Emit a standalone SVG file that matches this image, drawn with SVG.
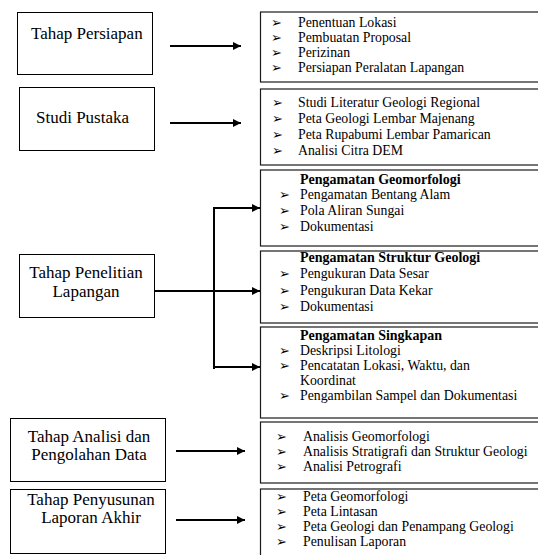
<svg xmlns="http://www.w3.org/2000/svg" width="538" height="555" viewBox="0 0 538 555">
<defs>
<style>
text{font-family:'Liberation Serif',serif;fill:#000}
.box{fill:#fff;stroke:#000;stroke-width:1}
.rbox{fill:#fff;stroke:#1a1a1a;stroke-width:1.2}
.lbl{font-size:17px}
.c{text-anchor:middle}
.it{font-size:13.8px}
.hd{font-size:14px;font-weight:bold}
.bl{font-size:13px}
.ln{stroke:#000;stroke-width:2;fill:none}
</style>
<marker id="ah" viewBox="0 0 10 10" refX="10" refY="5" markerWidth="4" markerHeight="4" orient="auto" markerUnits="strokeWidth">
<path d="M0,0 L10,5 L0,10 z" fill="#000"/>
</marker>
</defs>
<rect width="538" height="555" fill="#fff"/>

<g id="n-persiapan">
<rect class="box" x="17.5" y="12.5" width="135" height="62"/>
<text class="lbl" x="31" y="39">Tahap Persiapan</text>
</g>
<g id="n-pustaka">
<rect class="box" x="19.5" y="87.5" width="135" height="63"/>
<text class="lbl" x="36" y="123">Studi Pustaka</text>
</g>
<g id="n-lapangan">
<rect class="box" x="19.5" y="254.5" width="135" height="63"/>
<text class="lbl c" x="86" y="278">Tahap Penelitian</text>
<text class="lbl c" x="86" y="297">Lapangan</text>
</g>
<g id="n-analisis">
<rect class="box" x="10.5" y="418.5" width="155" height="63"/>
<text class="lbl c" x="89" y="442">Tahap Analisi dan</text>
<text class="lbl c" x="89" y="460">Pengolahan Data</text>
</g>
<g id="n-laporan">
<rect class="box" x="10.5" y="489.5" width="155" height="64"/>
<text class="lbl c" x="91" y="505">Tahap Penyusunan</text>
<text class="lbl c" x="91" y="523">Laporan Akhir</text>
</g>

<g id="r-persiapan">
<rect class="rbox" x="260.5" y="12" width="290" height="70"/>
<text class="bl" x="271" y="27">➢</text><text class="it" x="298" y="27">Penentuan Lokasi</text>
<text class="bl" x="271" y="42">➢</text><text class="it" x="298" y="42">Pembuatan Proposal</text>
<text class="bl" x="271" y="57">➢</text><text class="it" x="298" y="57">Perizinan</text>
<text class="bl" x="271" y="72">➢</text><text class="it" x="298" y="72">Persiapan Peralatan Lapangan</text>
</g>
<g id="r-pustaka">
<rect class="rbox" x="260.5" y="89" width="290" height="76"/>
<text class="bl" x="272" y="107">➢</text><text class="it" x="298" y="107">Studi Literatur Geologi Regional</text>
<text class="bl" x="272" y="123">➢</text><text class="it" x="298" y="123">Peta Geologi Lembar Majenang</text>
<text class="bl" x="272" y="139">➢</text><text class="it" x="298" y="139">Peta Rupabumi Lembar Pamarican</text>
<text class="bl" x="272" y="155">➢</text><text class="it" x="298" y="155">Analisi Citra DEM</text>
</g>
<g id="r-geomorfologi">
<rect class="rbox" x="260.5" y="170" width="290" height="76"/>
<text class="hd" x="300" y="184">Pengamatan Geomorfologi</text>
<text class="bl" x="279" y="199">➢</text><text class="it" x="300" y="199">Pengamatan Bentang Alam</text>
<text class="bl" x="279" y="215">➢</text><text class="it" x="300" y="215">Pola Aliran Sungai</text>
<text class="bl" x="279" y="231">➢</text><text class="it" x="300" y="231">Dokumentasi</text>
</g>
<g id="r-struktur">
<rect class="rbox" x="260.5" y="251" width="290" height="72"/>
<text class="hd" x="300" y="262">Pengamatan Struktur Geologi</text>
<text class="bl" x="279" y="278">➢</text><text class="it" x="300" y="278">Pengukuran Data Sesar</text>
<text class="bl" x="279" y="295">➢</text><text class="it" x="300" y="295">Pengukuran Data Kekar</text>
<text class="bl" x="279" y="311">➢</text><text class="it" x="300" y="311">Dokumentasi</text>
</g>
<g id="r-singkapan">
<rect class="rbox" x="260.5" y="327" width="290" height="91"/>
<text class="hd" x="300" y="340">Pengamatan Singkapan</text>
<text class="bl" x="279" y="355">➢</text><text class="it" x="300" y="355">Deskripsi Litologi</text>
<text class="bl" x="279" y="370">➢</text><text class="it" x="300" y="370">Pencatatan Lokasi, Waktu, dan</text>
<text class="it" x="300" y="385">Koordinat</text>
<text class="bl" x="279" y="400">➢</text><text class="it" x="300" y="400">Pengambilan Sampel dan Dokumentasi</text>
</g>
<g id="r-analisis">
<rect class="rbox" x="260.5" y="422" width="290" height="61"/>
<text class="bl" x="276" y="441">➢</text><text class="it" x="303" y="441">Analisis Geomorfologi</text>
<text class="bl" x="276" y="456">➢</text><text class="it" x="303" y="456">Analisis Stratigrafi dan Struktur Geologi</text>
<text class="bl" x="276" y="471">➢</text><text class="it" x="303" y="471">Analisi Petrografi</text>
</g>
<g id="r-laporan">
<rect class="rbox" x="260.5" y="489" width="290" height="80"/>
<text class="bl" x="276" y="501">➢</text><text class="it" x="303" y="501">Peta Geomorfologi</text>
<text class="bl" x="276" y="516">➢</text><text class="it" x="303" y="516">Peta Lintasan</text>
<text class="bl" x="276" y="531">➢</text><text class="it" x="303" y="531">Peta Geologi dan Penampang Geologi</text>
<text class="bl" x="276" y="546">➢</text><text class="it" x="303" y="546">Penulisan Laporan</text>
</g>

<g id="connectors">
<line class="ln" x1="170" y1="46" x2="241" y2="46" marker-end="url(#ah)"/>
<line class="ln" x1="170" y1="123" x2="241" y2="123" marker-end="url(#ah)"/>
<line class="ln" x1="154" y1="291" x2="260" y2="291" marker-end="url(#ah)"/>
<line class="ln" x1="214" y1="207" x2="214" y2="369"/>
<line class="ln" x1="213" y1="208" x2="260" y2="208" marker-end="url(#ah)"/>
<line class="ln" x1="213" y1="367" x2="260" y2="367" marker-end="url(#ah)"/>
<line class="ln" x1="176" y1="451" x2="245" y2="451" marker-end="url(#ah)"/>
<line class="ln" x1="176" y1="520" x2="245" y2="520" marker-end="url(#ah)"/>
</g>
</svg>
